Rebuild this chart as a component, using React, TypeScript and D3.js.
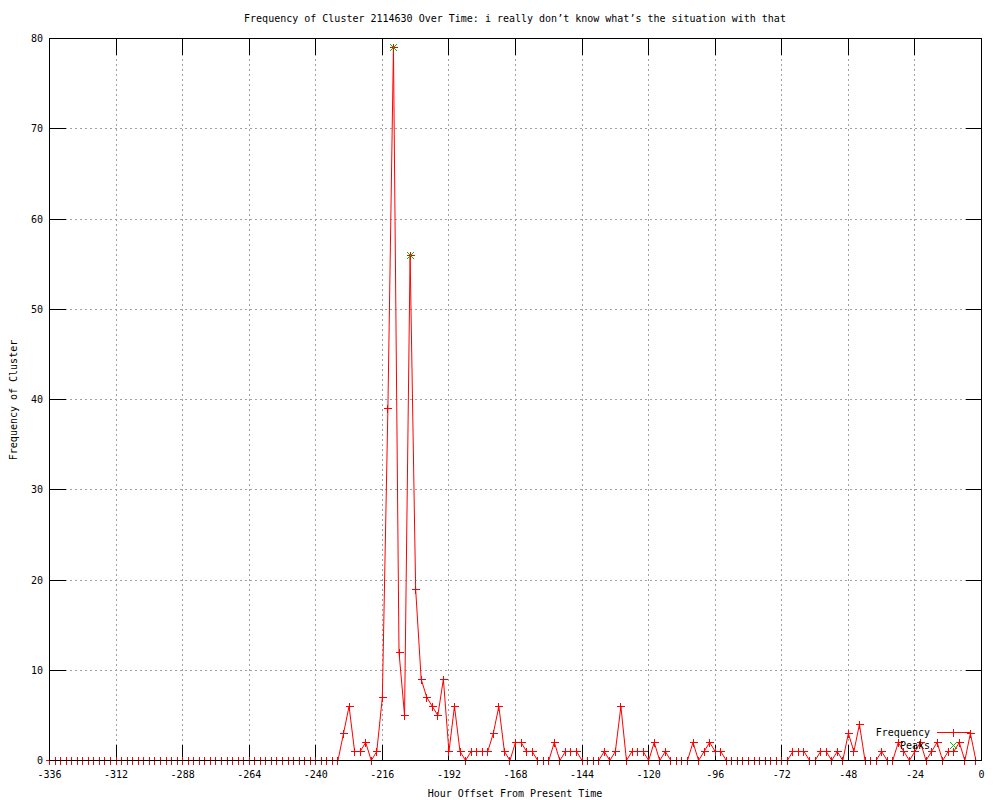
import React from "react";
import * as d3 from "d3";

// Hours (offset from present), one sample every 2 hours
const hours: number[] = d3.range(-336, 0, 2);

// Frequency values, one row per 24 hours (12 samples)
const frequency: number[] = [
  0, 0, 0, 0, 0, 0, 0, 0, 0, 0, 0, 0, // -336
  0, 0, 0, 0, 0, 0, 0, 0, 0, 0, 0, 0, // -312
  0, 0, 0, 0, 0, 0, 0, 0, 0, 0, 0, 0, // -288
  0, 0, 0, 0, 0, 0, 0, 0, 0, 0, 0, 0, // -264
  0, 0, 0, 0, 0, 3, 6, 1, 1, 2, 0, 1, // -240
  7, 39, 79, 12, 5, 56, 19, 9, 7, 6, 5, 9, // -216
  1, 6, 1, 0, 1, 1, 1, 1, 3, 6, 1, 0, // -192
  2, 2, 1, 1, 0, 0, 0, 2, 0, 1, 1, 1, // -168
  0, 0, 0, 0, 1, 0, 1, 6, 0, 1, 1, 1, // -144
  0, 2, 0, 1, 0, 0, 0, 0, 2, 0, 1, 2, // -120
  1, 1, 0, 0, 0, 0, 0, 0, 0, 0, 0, 0, // -96
  0, 0, 1, 1, 1, 0, 0, 1, 1, 0, 1, 0, // -72
  3, 1, 4, 0, 0, 0, 1, 0, 0, 2, 1, 0, // -48
  1, 2, 0, 1, 2, 0, 1, 1, 2, 0, 3, 0, // -24
];

const peakHours: number[] = [-212, -206];
const peakValues: number[] = [79, 56];

const xTicks: number[] = [-336, -312, -288, -264, -240, -216, -192, -168, -144, -120, -96, -72, -48, -24, 0];
const yTicks: number[] = [0, 10, 20, 30, 40, 50, 60, 70, 80];

const title = "Frequency of Cluster 2114630 Over Time: i really don\u2019t know what\u2019s the situation with that";
const xLabel = "Hour Offset From Present Time";
const yLabel = "Frequency of Cluster";

const FONT = "'DejaVu Sans Mono', monospace";
const RED = "#ff0000";
const GREEN = "#00c000";

const snap = (v: number) => Math.round(v - 0.5) + 0.5;

export default function App() {
  const W = 1000;
  const H = 800;
  const left = 49.5;
  const right = 981.5;
  const top = 38.5;
  const bottom = 760.5;

  const x = d3.scaleLinear().domain([-336, 0]).range([left, right]);
  const y = d3.scaleLinear().domain([0, 80]).range([bottom, top]);

  const data = hours.map((h, i) => ({ h, v: frequency[i] }));
  const line = d3
    .line<{ h: number; v: number }>()
    .x((d) => x(d.h))
    .y((d) => y(d.v));

  const tickLen = 16;
  const plus = (px: number, py: number, key: string, color = RED) => {
    const cx = snap(px);
    const cy = snap(py);
    return (
      <g key={key} stroke={color} strokeWidth={1} shapeRendering="crispEdges">
        <line x1={cx - 4} x2={cx + 4} y1={cy} y2={cy} />
        <line x1={cx} x2={cx} y1={cy - 4} y2={cy + 4} />
      </g>
    );
  };
  const cross = (px: number, py: number, key: string) => {
    const cx = snap(px);
    const cy = snap(py);
    return (
      <g key={key} stroke={GREEN} strokeWidth={1}>
        <line x1={cx - 3.5} x2={cx + 3.5} y1={cy - 3.5} y2={cy + 3.5} />
        <line x1={cx - 3.5} x2={cx + 3.5} y1={cy + 3.5} y2={cy - 3.5} />
      </g>
    );
  };

  const legX = 930;
  const legY1 = 732.5;
  const legY2 = 745.5;

  return (
    <svg
      width={W}
      height={H}
      style={{ position: "absolute", left: 0, top: 0, background: "#fff" }}
      fontFamily={FONT}
      fontSize={10}
    >
      <rect x={0} y={0} width={W} height={H} fill="#fff" />
      {/* grid */}
      <g stroke="#a0a0a0" strokeWidth={1} strokeDasharray="2,3" shapeRendering="crispEdges">
        {xTicks
          .filter((t) => t !== -336 && t !== 0)
          .map((t) => (
            <line key={"gx" + t} x1={snap(x(t))} x2={snap(x(t))} y1={top} y2={bottom} />
          ))}
        {yTicks
          .filter((t) => t !== 0 && t !== 80)
          .map((t) => (
            <line key={"gy" + t} x1={left} x2={right} y1={snap(y(t))} y2={snap(y(t))} />
          ))}
      </g>
      {/* ticks */}
      <g stroke="#000" strokeWidth={1} shapeRendering="crispEdges">
        {xTicks.map((t) => {
          const px = snap(x(t));
          return (
            <g key={"tx" + t}>
              <line x1={px} x2={px} y1={bottom} y2={bottom - tickLen} />
              <line x1={px} x2={px} y1={top} y2={top + tickLen} />
            </g>
          );
        })}
        {yTicks.map((t) => {
          const py = snap(y(t));
          return (
            <g key={"ty" + t}>
              <line x1={left} x2={left + tickLen} y1={py} y2={py} />
              <line x1={right} x2={right - tickLen} y1={py} y2={py} />
            </g>
          );
        })}
      </g>
      {/* tick labels */}
      <g fill="#000">
        {xTicks.map((t) => (
          <text key={"lx" + t} x={x(t)} y={778} textAnchor="middle">
            {String(t)}
          </text>
        ))}
        {yTicks.map((t) => (
          <text key={"ly" + t} x={43} y={y(t) + 3.5} textAnchor="end">
            {String(t)}
          </text>
        ))}
      </g>
      {/* frequency line */}
      <path d={line(data) || ""} fill="none" stroke={RED} strokeWidth={1} />
      {data.map((d, i) => plus(x(d.h), y(d.v), "p" + i))}
      {/* peaks */}
      {peakHours.map((h, i) => cross(x(h), y(peakValues[i]), "pk" + i))}
      {/* border */}
      <rect x={left} y={top} width={right - left} height={bottom - top} fill="none" stroke="#000" strokeWidth={1} shapeRendering="crispEdges" />
      {/* legend */}
      <text x={legX} y={legY1 + 3.5} textAnchor="end">Frequency</text>
      <line x1={937} x2={971} y1={legY1} y2={legY1} stroke={RED} strokeWidth={1} shapeRendering="crispEdges" />
      {plus(953.5, legY1, "legp")}
      <text x={legX} y={legY2 + 3.5} textAnchor="end">Peaks</text>
      {cross(953, legY2, "legx")}
      {/* titles */}
      <text x={515} y={22} textAnchor="middle">{title}</text>
      <text x={515} y={797} textAnchor="middle">{xLabel}</text>
      <text transform="translate(17,400) rotate(-90)" textAnchor="middle">{yLabel}</text>
    </svg>
  );
}
